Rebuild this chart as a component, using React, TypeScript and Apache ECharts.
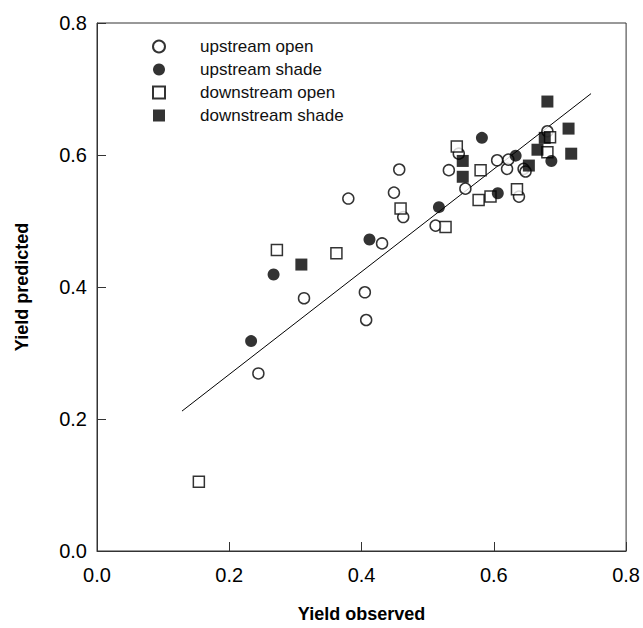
import React, { useEffect, useRef } from "react";
import * as echarts from "echarts";

const xTicks = [0.0, 0.2, 0.4, 0.6, 0.8];
const yTicks = [0.0, 0.2, 0.4, 0.6, 0.8];

const seriesNames = ["upstream open", "upstream shade", "downstream open", "downstream shade"];

const upstreamOpen: [number, number][] = [
  [0.244, 0.269], [0.313, 0.383], [0.380, 0.534], [0.405, 0.392], [0.407, 0.350],
  [0.431, 0.466], [0.449, 0.543], [0.457, 0.578], [0.463, 0.506], [0.512, 0.493],
  [0.532, 0.577], [0.547, 0.602], [0.557, 0.549], [0.605, 0.592], [0.620, 0.579],
  [0.622, 0.593], [0.638, 0.537], [0.645, 0.579], [0.648, 0.575], [0.681, 0.636],
];

const upstreamShade: [number, number][] = [
  [0.233, 0.318], [0.267, 0.419], [0.412, 0.472], [0.517, 0.521],
  [0.582, 0.626], [0.606, 0.542], [0.633, 0.599], [0.687, 0.591],
];

const downstreamOpen: [number, number][] = [
  [0.154, 0.105], [0.272, 0.456], [0.362, 0.451], [0.459, 0.519], [0.527, 0.491],
  [0.544, 0.613], [0.580, 0.577], [0.577, 0.532], [0.595, 0.537], [0.635, 0.548],
  [0.681, 0.604], [0.685, 0.627],
];

const downstreamShade: [number, number][] = [
  [0.309, 0.434], [0.553, 0.591], [0.553, 0.567], [0.653, 0.584], [0.666, 0.608],
  [0.677, 0.626], [0.681, 0.681], [0.713, 0.640], [0.717, 0.602],
];

const fitLine: [number, number][] = [
  [0.1285, 0.212],
  [0.747, 0.693],
];

const FONT = "Liberation Sans, Arial, Helvetica, sans-serif";

export default function App() {
  const ref = useRef<HTMLDivElement>(null);
  useEffect(() => {
    document.body.style.margin = "0";
    const chart = echarts.init(ref.current!, null, { renderer: "svg" });
    const openStyle = { color: "#ffffff", borderColor: "#000000", borderWidth: 1.5 };
    const fillStyle = { color: "#000000", borderColor: "#000000", borderWidth: 0 };
    chart.setOption({
      animation: false,
      backgroundColor: "#ffffff",
      grid: {
        left: 97,
        top: 23,
        right: 15,
        bottom: 75,
        show: true,
        borderColor: "#333333",
        borderWidth: 1,
        backgroundColor: "transparent",
      },
      legend: {
        orient: "vertical",
        left: 147,
        top: 33,
        itemWidth: 12,
        itemHeight: 12,
        itemGap: 6,
        selectedMode: false,
        data: seriesNames,
        textStyle: { fontFamily: FONT, fontSize: 17, color: "#111", padding: [0, 0, 0, 30] },
      },
      xAxis: {
        type: "value",
        min: 0,
        max: 0.8,
        interval: 0.2,
        name: "Yield observed",
        nameLocation: "middle",
        nameGap: 54,
        nameTextStyle: { fontFamily: FONT, fontSize: 18, fontWeight: "bold", color: "#000" },
        axisLine: { show: true, lineStyle: { color: "#333", width: 1 } },
        axisTick: { show: true, inside: true, length: 9, lineStyle: { color: "#333" } },
        axisLabel: {
          fontFamily: FONT,
          fontSize: 20,
          color: "#000",
          margin: 14,
          formatter: (v: number) => (xTicks.includes(Math.round(v * 10) / 10) ? v.toFixed(1) : ""),
        },
        splitLine: { show: false },
      },
      yAxis: {
        type: "value",
        min: 0,
        max: 0.8,
        interval: 0.2,
        name: "Yield predicted",
        nameLocation: "middle",
        nameGap: 66,
        nameTextStyle: { fontFamily: FONT, fontSize: 18, fontWeight: "bold", color: "#000" },
        axisLine: { show: true, lineStyle: { color: "#333", width: 1 } },
        axisTick: { show: true, inside: true, length: 9, lineStyle: { color: "#333" } },
        axisLabel: {
          fontFamily: FONT,
          fontSize: 20,
          color: "#000",
          margin: 10,
          formatter: (v: number) => (yTicks.includes(Math.round(v * 10) / 10) ? v.toFixed(1) : ""),
        },
        splitLine: { show: false },
      },
      series: [
        {
          name: "fit",
          type: "line",
          data: fitLine,
          symbol: "none",
          lineStyle: { color: "#000", width: 1 },
          z: 1,
          silent: true,
        },
        {
          name: seriesNames[0],
          type: "scatter",
          symbol: "circle",
          symbolSize: 11,
          data: upstreamOpen,
          itemStyle: openStyle,
          z: 2,
        },
        {
          name: seriesNames[2],
          type: "scatter",
          symbol: "rect",
          symbolSize: 11,
          data: downstreamOpen,
          itemStyle: openStyle,
          z: 2,
        },
        {
          name: seriesNames[1],
          type: "scatter",
          symbol: "circle",
          symbolSize: 12,
          data: upstreamShade,
          itemStyle: fillStyle,
          z: 3,
        },
        {
          name: seriesNames[3],
          type: "scatter",
          symbol: "rect",
          symbolSize: 12,
          data: downstreamShade,
          itemStyle: fillStyle,
          z: 3,
        },
      ],
    });
    return () => chart.dispose();
  }, []);
  return <div ref={ref} style={{ width: 643, height: 628 }} />;
}
